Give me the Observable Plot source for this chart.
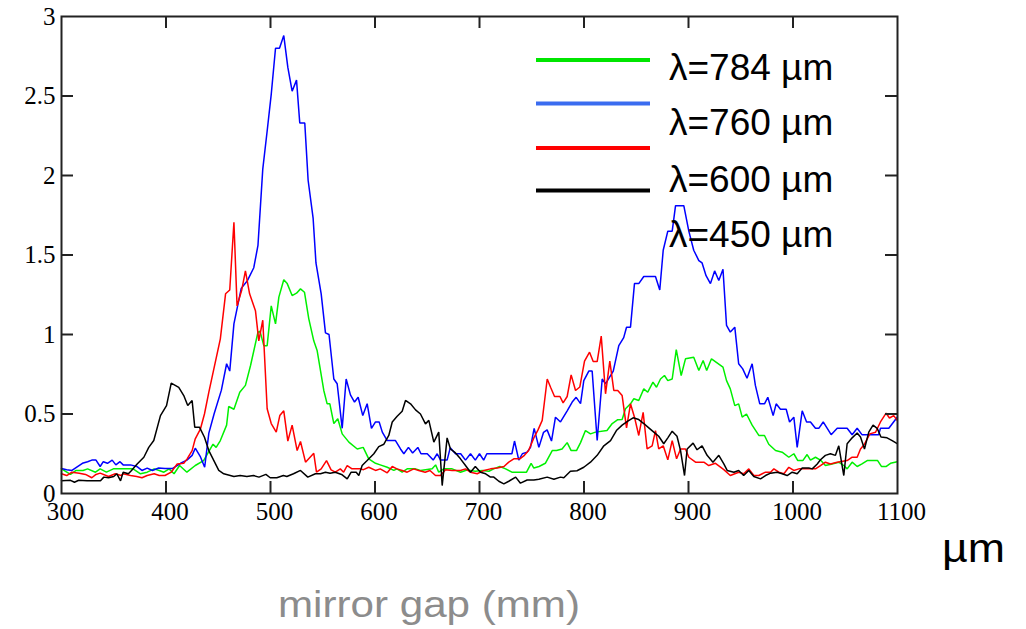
<!DOCTYPE html>
<html>
<head>
<meta charset="utf-8">
<script src="https://cdn.jsdelivr.net/npm/d3@7"></script>
<script src="https://cdn.jsdelivr.net/npm/@observablehq/plot@0.6"></script>
<style>
  html, body { margin: 0; padding: 0; background: #fff; }
  #chart { position: relative; width: 1026px; }
  svg { display: block; }
</style>
</head>
<body>
<div id="chart"></div>
<script>
// ---- data ----
const xTicks = [300, 400, 500, 600, 700, 800, 900, 1000, 1100];
const xTickLabels = ["300", "400", "500", "600", "700", "800", "900", "1000", "1100"];
const yTicks = [0, 0.5, 1, 1.5, 2, 2.5, 3];
const yTickLabels = ["0", "0.5", "1", "1.5", "2", "2.5", "3"];
const xInnerTicks = [400, 500, 600, 700, 800, 900, 1000];
const yInnerTicks = [0.5, 1, 1.5, 2, 2.5];

const seriesNames = ["λ=784 µm", "λ=760 µm", "λ=600 µm", "λ=450 µm"];
const lineColors = ["#00f000", "#0000ff", "#ff0000", "#000000"];
const legendColors = ["#00e600", "#3a6cf0", "#ff0000", "#000000"];

const gap784 = [300,308.6,314,320.6,325,332.5,337,343,349.6,364,368.5,375.6,382,388.7,393.5,398,403,407.7,413,420,428,436,445,448,452,458,460,465,470.6,476,480.9,488,490,493.6,496.8,500.7,504.8,508,512.7,516,520.7,524.9,528.7,532.5,536.6,541.4,544.6,551,554.2,556.8,560.6,564.4,568.6,575,583,588.7,594,600.5,605,611.7,618,621,626,630.8,638.8,643.5,654.7,658,661,665.8,673.8,681.8,688,696,702.6,709,713.5,719.5,725,731,745,749.4,752,757,763,769.6,773.7,779,783.9,787.7,792.8,796.7,801.4,806.2,811,822,827,832.3,836.5,839.7,844.5,847.7,852.4,857.2,861,866,869.4,873.2,877,880.2,884.4,888.3,893,897.1,905,909.9,914,917.4,922,933,936.4,940,944.3,948,951.4,955.5,960.9,967.3,972.7,976.8,983.3,989.6,996,1000.8,1004.6,1009.4,1013.5,1016.7,1021.5,1026.3,1031,1037.4,1043.8,1048.6,1051.8,1056.6,1061.4,1066,1071,1081,1084.6,1089.3,1093.3,1099.7];
const val784 = [.155,.12,.145,.145,.155,.134,.155,.134,.155,.155,.155,.124,.134,.155,.145,.134,.155,.124,.176,.134,.176,.207,.31,.29,.333,.43,.547,.53,.637,.68,.805,1.015,1.02,.93,.93,1.18,1.067,1.235,1.344,1.32,1.245,1.26,1.287,1.266,1.10,.96,.90,.648,.564,.564,.44,.47,.375,.323,.28,.29,.218,.19,.18,.165,.145,.155,.134,.155,.155,.145,.155,.18,.134,.155,.155,.134,.148,.14,.145,.14,.155,.17,.155,.134,.134,.19,.16,.17,.19,.27,.27,.28,.32,.27,.27,.32,.396,.375,.386,.396,.44,.464,.465,.533,.564,.596,.585,.658,.637,.70,.668,.72,.742,.71,.72,.905,.742,.847,.857,.774,.836,.774,.847,.795,.71,.658,.553,.564,.48,.50,.43,.365,.365,.31,.27,.26,.228,.25,.207,.207,.245,.21,.228,.21,.176,.186,.197,.176,.155,.197,.17,.186,.207,.207,.17,.17,.19,.2];

const gap760 = [300,305,310,320,325,329,333,337,340,344,348.5,352,356,359,366,372,377,382,387,393,399,406,414,420,425,428,433,437,441,446,453,458,461,465,472,478,484,488,492.6,496.8,500.7,504.8,508.6,512.7,516.6,520.7,524.9,528,532.8,536,540.8,543.5,548.5,552.6,556,560.6,563.8,568.6,572.4,576.5,580.4,583.9,588.3,592.5,596.6,600.5,604,607,611.7,619.6,624.4,627.6,632,636,641,644,650,655.7,659.5,662.7,669,672,677,682,686.6,691.4,696,700,704,707,731,733.5,737.6,741,745.6,748.8,752.3,756.8,761.3,764.7,768.9,772.7,777.5,783.9,788.7,792.5,796.7,799.8,804.6,807.8,812.6,817.4,820.6,828,833.3,838,840.7,844.5,848.3,852.4,857.2,868.4,872.5,875.8,880.2,884.4,887.6,895.5,900.3,905,909.9,913,916.8,921,925,929,933,936.4,940,944.3,948,951.9,956,960.9,964,968.2,972.7,975.9,981,983.9,988,993.5,996.7,1000.8,1004,1008.8,1013,1016.7,1021.5,1024.7,1028.9,1036.5,1042.3,1051.8,1056.6,1061.4,1066,1082,1083.7,1091.7,1099.7];
const val760 = [.157,.15,.145,.19,.20,.21,.21,.17,.20,.19,.21,.18,.20,.18,.18,.17,.145,.16,.145,.16,.157,.157,.19,.21,.24,.285,.23,.165,.38,.50,.65,.816,.77,1.067,1.29,1.34,1.42,1.56,2.04,2.28,2.51,2.80,2.80,2.88,2.68,2.53,2.60,2.33,2.33,1.97,1.73,1.45,1.256,1.01,1.0,.72,.69,.41,.72,.62,.575,.605,.49,.565,.41,.45,.45,.386,.333,.333,.28,.25,.29,.255,.29,.25,.25,.21,.25,.21,.21,.287,.25,.25,.21,.25,.21,.25,.21,.25,.25,.33,.21,.25,.26,.29,.41,.29,.385,.40,.33,.48,.45,.52,.575,.605,.565,.71,.77,.77,.333,.72,.69,.77,.93,.98,1.046,1.046,1.32,1.32,1.365,1.365,1.28,1.53,1.65,1.65,1.81,1.81,1.65,1.53,1.465,1.45,1.37,1.32,1.40,1.34,1.41,1.057,1.015,1.046,.816,.784,.725,.816,.68,.564,.564,.605,.49,.564,.53,.53,.45,.48,.29,.52,.45,.45,.41,.41,.45,.37,.41,.41,.37,.41,.37,.37,.41,.41,.48];

const gap600 = [300,305,310,317,323,329,333,337,345,351.5,357,359,366,372,377,382,388.7,393.5,399,405,410.7,417,420.2,425,428,433,436.8,441,452,457,461,465,468,472.5,476,480,485.6,488.8,492.6,496.8,500.7,505.5,508.9,512.7,516.6,520.7,525.5,528.7,533.5,541.4,544,548.5,553.6,558,562,566.8,570,573.4,578,586,589,594,600.5,605,611.7,616.5,621,626,630.8,637,641.8,648,652.6,657.9,662.7,667.5,673.8,681.8,686.6,691.4,697.8,704.2,710.6,717,723.4,728,732.8,738.6,743,747,752,756,760,764.8,768,771.8,777,780,783.9,787.7,791.9,796,800.5,805.3,808.8,812.6,816.5,820.6,824.7,828.5,832.3,836.5,840.7,844.5,848.3,852.4,856.6,860.4,865.2,868.4,871.5,875.8,880.2,884.4,888.6,892.4,897.1,900.3,906.7,914.7,919.4,925.8,933.8,940,948,952.8,957.7,962.5,967.3,973.7,978.5,981.7,986.5,991.3,996,1000.8,1005.6,1016.7,1021.5,1026.3,1031,1035.8,1042.2,1051.8,1056.6,1061.4,1064.6,1068.4,1073.5,1079,1083.7,1089.1,1092.3,1096.4,1099.7];
const val600 = [.124,.113,.134,.128,.12,.099,.12,.128,.107,.124,.113,.124,.113,.107,.099,.113,.124,.113,.113,.134,.186,.19,.218,.27,.344,.407,.50,.637,.973,1.256,1.28,1.706,1.18,1.28,1.40,1.256,1.15,.96,1.09,.533,.44,.386,.49,.52,.33,.43,.27,.327,.197,.253,.134,.155,.207,.149,.134,.155,.134,.176,.155,.155,.15,.165,.145,.155,.13,.17,.155,.145,.134,.155,.145,.134,.145,.113,.113,.15,.145,.145,.155,.134,.124,.145,.155,.16,.17,.197,.218,.218,.24,.27,.35,.40,.46,.72,.668,.61,.61,.57,.61,.746,.648,.67,.832,.889,.83,.83,.99,.627,.832,.648,.648,.616,.413,.564,.48,.365,.51,.28,.30,.396,.28,.30,.212,.333,.218,.28,.28,.228,.197,.197,.176,.19,.15,.113,.134,.124,.155,.113,.113,.134,.134,.155,.134,.124,.165,.145,.155,.155,.155,.176,.197,.186,.197,.207,.228,.228,.28,.31,.375,.385,.45,.505,.475,.49,.46];

const gap450 = [300,308.6,312.4,316.5,324.5,337.3,340.5,345,350,353,356.5,359,364,367,372.4,378.8,383.5,388.3,394.7,400.5,405,412.2,417,420.8,425,427.5,432,436.8,441,445.8,450.5,455.3,465,471,477.4,483.8,489,495.6,499.7,506,512.4,515.6,522,528.7,535.7,543,547.8,552.6,557,562,568,573.4,577.2,582,584.5,587.7,592.5,598.9,603.6,608.5,613.2,616.5,621,626,629.2,634,638.8,643.5,648.3,651.5,656.3,661,664.3,669,672.2,677,681.8,686.6,691.4,696,701,705.9,710.5,713.7,718.5,723.3,728,734.6,739.2,745.6,752,756.8,764.8,771.2,777.5,780.7,787,793.3,799.8,806.2,812.6,819,825.4,831,836.5,841.9,847,852.4,857.2,862,866.8,871.5,876.3,880.2,884.4,889,892.4,896.2,898.7,904.4,908.2,913,917.8,923.4,929,933.8,937,943.4,948,952.8,957.7,962.5,968.9,973.7,978.5,984.9,989.6,994.4,999.2,1004,1008.8,1015.2,1018.4,1023.2,1026.3,1031,1035.8,1040.6,1043.8,1048.6,1051.8,1056.6,1061.4,1064.6,1068.4,1072.5,1076.6,1080.5,1084.2,1090,1094.9,1099.7];
const val450 = [.08,.083,.071,.083,.08,.08,.103,.099,.107,.124,.08,.134,.124,.145,.186,.228,.29,.333,.49,.553,.694,.668,.616,.553,.585,.417,.417,.354,.27,.207,.145,.124,.107,.113,.107,.113,.103,.12,.099,.099,.113,.107,.124,.145,.103,.124,.124,.134,.128,.134,.12,.092,.134,.134,.113,.176,.207,.25,.295,.31,.365,.45,.484,.517,.585,.564,.526,.50,.438,.46,.323,.386,.05,.35,.28,.255,.218,.176,.134,.17,.134,.124,.103,.103,.077,.061,.077,.103,.065,.085,.085,.09,.103,.09,.103,.099,.14,.143,.165,.197,.24,.30,.333,.396,.43,.455,.476,.465,.44,.413,.386,.36,.313,.35,.392,.36,.27,.113,.28,.317,.275,.30,.24,.197,.24,.186,.145,.134,.145,.113,.145,.107,.092,.113,.128,.134,.124,.113,.134,.124,.16,.16,.155,.186,.212,.24,.25,.24,.30,.113,.313,.35,.38,.355,.28,.386,.43,.41,.355,.35,.333,.313];

// ---- build table ----
const seriesX = [gap784, gap760, gap600, gap450];
const seriesY = [val784, val760, val600, val450];
const rows = seriesNames.flatMap((name, k) =>
  seriesX[k].map((x, i) => ({gap: x, value: seriesY[k][i], series: name}))
);

const W = 1026, H = 526;
const mL = 61, mR = 129, mT = 16, mB = H - 493;
const frameW = W - mL - mR, frameH = H - mT - mB;
const tick = 12;
const axisColor = "#222";

const plot = Plot.plot({
  width: W,
  height: H,
  marginLeft: mL,
  marginRight: mR,
  marginTop: mT,
  marginBottom: mB,
  x: {domain: [300, 1100], axis: null},
  y: {domain: [0, 3], axis: null},
  color: {domain: seriesNames, range: lineColors},
  style: {fontFamily: "'Liberation Serif', 'Times New Roman', serif", fontSize: "25px", color: "#000", background: "#fff", overflow: "visible"},
  marks: [
    Plot.line(rows, {x: "gap", y: "value", z: "series", stroke: "series", strokeWidth: 1.5, strokeLinejoin: "miter"}),
    Plot.frame({stroke: axisColor, strokeWidth: 2}),
    Plot.ruleX(xInnerTicks, {insetBottom: frameH - tick, stroke: axisColor, strokeWidth: 2}),
    Plot.ruleX(xInnerTicks, {insetTop: frameH - tick, stroke: axisColor, strokeWidth: 2}),
    Plot.ruleY(yInnerTicks, {insetRight: frameW - tick, stroke: axisColor, strokeWidth: 2}),
    Plot.ruleY(yInnerTicks, {insetLeft: frameW - tick, stroke: axisColor, strokeWidth: 2}),
    Plot.text(xTicks, {x: d => d, text: (d, i) => xTickLabels[i], frameAnchor: "bottom", lineAnchor: "top", dy: 9, dx: 4, fill: "#000", fontSize: 25}),
    Plot.text(yTicks, {y: d => d, text: (d, i) => yTickLabels[i], frameAnchor: "left", textAnchor: "end", dx: -6, fill: "#000", fontSize: 25})
  ]
});

document.getElementById("chart").appendChild(plot);

// ---- legend (inside the plot area, top right) ----
const svg = d3.select(plot);
const leg = svg.append("g").attr("class", "legend").attr("text-anchor", "start");
const legLineY = [60, 103.5, 148, 190.5];
const legTextY = [80, 135, 192, 247];
seriesNames.forEach((name, i) => {
  leg.append("line")
    .attr("x1", 536).attr("x2", 650)
    .attr("y1", legLineY[i]).attr("y2", legLineY[i])
    .attr("stroke", legendColors[i]).attr("stroke-width", 4);
  leg.append("text")
    .attr("x", 669).attr("y", legTextY[i])
    .attr("text-anchor", "start")
    .attr("font-family", "'Liberation Sans', Arial, sans-serif")
    .attr("font-size", 37)
    .attr("fill", "#000")
    .text(name);
});

// ---- axis titles below the plot ----
const below = d3.select("#chart").append("svg")
  .attr("width", W).attr("height", 629 - H);
below.append("text")
  .attr("x", 942).attr("y", 562 - H)
  .attr("text-anchor", "start")
  .attr("font-family", "'Liberation Sans', Arial, sans-serif")
  .attr("font-size", 40)
  .attr("fill", "#000")
  .attr("textLength", 63).attr("lengthAdjust", "spacingAndGlyphs")
  .text("µm");
below.append("text")
  .attr("x", 278).attr("y", 617 - H)
  .attr("text-anchor", "start")
  .attr("font-family", "'Liberation Sans', Arial, sans-serif")
  .attr("font-size", 37)
  .attr("fill", "#8c8c8c")
  .attr("textLength", 302).attr("lengthAdjust", "spacingAndGlyphs")
  .text("mirror gap (mm)");
</script>
</body>
</html>
